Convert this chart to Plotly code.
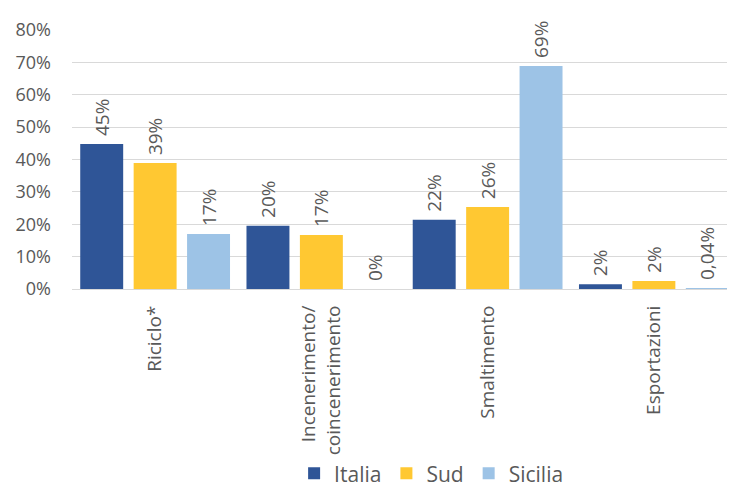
import plotly.graph_objects as go

categories = ["Riciclo*", "Incenerimento/<br>coincenerimento", "Smaltimento", "Esportazioni"]
italia = [0.448, 0.195, 0.214, 0.015]
sud = [0.389, 0.167, 0.253, 0.025]
sicilia = [0.170, 0.0, 0.689, 0.0004]
italia_lbl = ["45%", "20%", "22%", "2%"]
sud_lbl = ["39%", "17%", "26%", "2%"]
sicilia_lbl = ["17%", "0%", "69%", "0,04%"]
yticks = [0, 0.1, 0.2, 0.3, 0.4, 0.5, 0.6, 0.7, 0.8]
ytick_lbl = ["0%", "10%", "20%", "30%", "40%", "50%", "60%", "70%", "80%"]

FONT = "Open Sans"
GRAY = "#595959"
PAD = "\u00a0"  # small gap between bar top and its rotated label

fig = go.Figure()
for name, vals, lbls, col in [
    ("Italia", italia, italia_lbl, "#2F5597"),
    ("Sud", sud, sud_lbl, "#FFC832"),
    ("Sicilia", sicilia, sicilia_lbl, "#9DC3E6"),
]:
    fig.add_trace(go.Bar(
        name=name, x=categories, y=vals, text=[PAD + t for t in lbls],
        textposition="outside", textangle=-90, constraintext="none",
        textfont=dict(family=FONT, size=19, color=GRAY),
        marker=dict(color=col, line=dict(width=0)),
        cliponaxis=False,
    ))

# page body has an 8px default margin, so the figure is sized/offset to compensate
fig.update_layout(
    width=729, height=479,
    margin=dict(l=64, r=0, t=22, b=198, autoexpand=False),
    paper_bgcolor="white", plot_bgcolor="white",
    barmode="group", bargap=0.036, bargroupgap=0.196,
    font=dict(family=FONT, size=18, color=GRAY),
    legend=dict(orientation="h", x=0.334, xanchor="left", y=-0.713, yanchor="middle",
                bgcolor="rgba(0,0,0,0)",
                font=dict(family=FONT, size=21, color=GRAY), itemwidth=30, traceorder="normal"),
    xaxis=dict(tickangle=-90, tickfont=dict(family=FONT, size=19, color=GRAY), automargin=False,
               showline=True, linecolor="#D9D9D9", linewidth=1, ticks="",
               ticklabelstandoff=8),
    yaxis=dict(range=[0, 0.8], tickvals=yticks, ticktext=ytick_lbl, automargin=False,
               tickfont=dict(family=FONT, size=18, color=GRAY),
               gridcolor="#D9D9D9", gridwidth=1, zeroline=False, showline=False, ticks="",
               ticklabelstandoff=20),
)

fig.write_html("out.html")
